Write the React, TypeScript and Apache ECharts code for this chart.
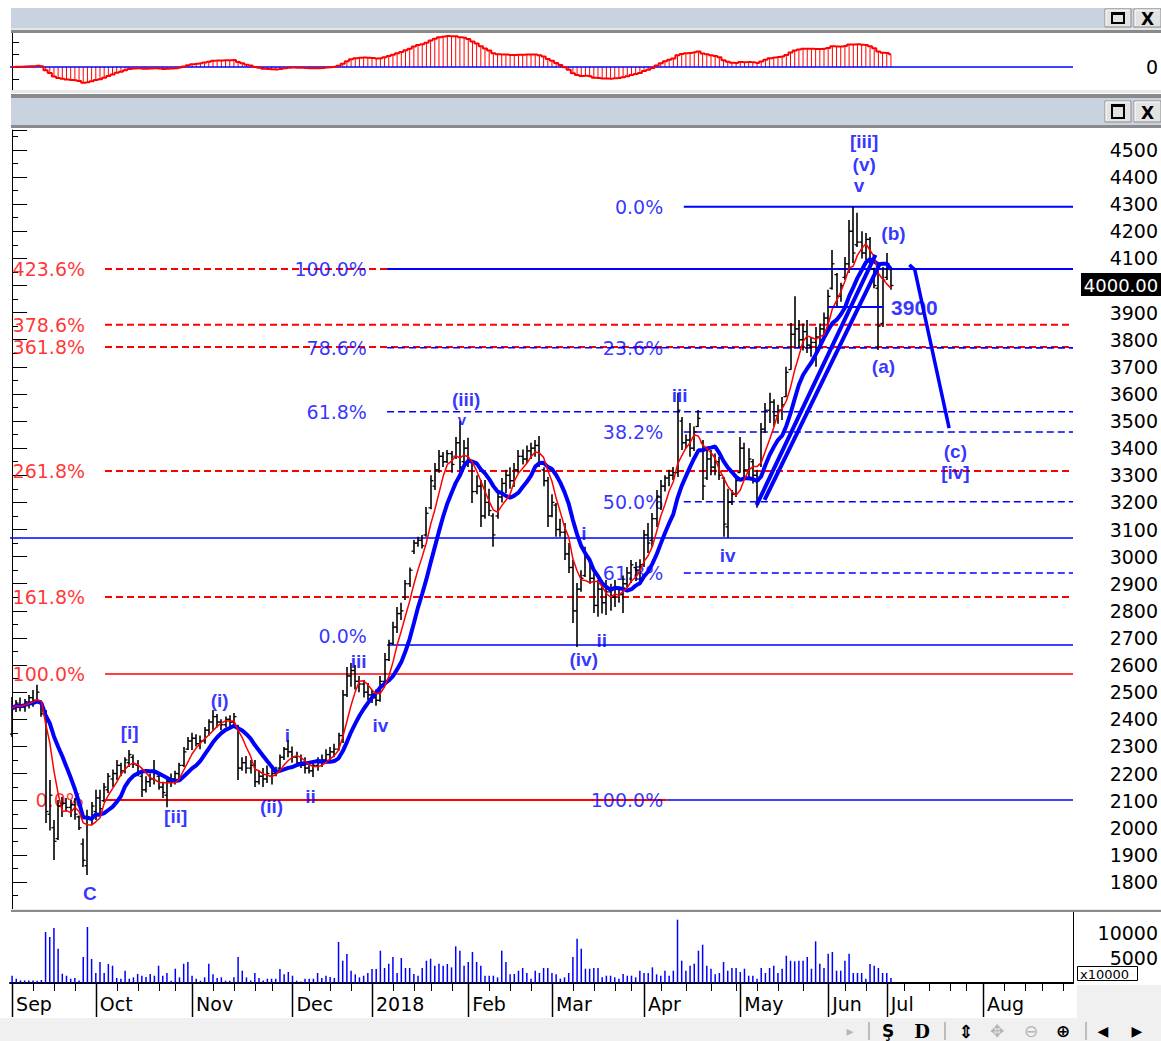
import React, { useEffect, useRef } from "react";
import * as echarts from "echarts";

const SLOT_COUNT = 254;
const BLUE = "#0000ff";
const RED = "#ff0000";
const FONT = "DejaVu Sans";
const BOLD_FONT = "Liberation Sans";

const opens = [2345,2440,2455,2445,2460,2480,2470,2460,2420,2050,
2000,1960,2080,2090,2075,2085,2040,1940,1860,2030,
2060,2110,2100,2140,2180,2200,2230,2210,2240,2260,
2230,2190,2140,2170,2180,2190,2150,2120,2170,2180,
2200,2230,2290,2320,2330,2310,2320,2360,2390,2410,
2390,2380,2400,2390,2370,2220,2240,2220,2230,2170,
2190,2180,2190,2200,2220,2260,2290,2280,2260,2240,
2230,2220,2210,2230,2240,2250,2270,2280,2290,2340,
2490,2560,2580,2540,2530,2500,2490,2480,2470,2540,
2620,2680,2740,2790,2850,2900,3020,3050,3060,3080,
3180,3260,3320,3370,3350,3380,3370,3420,3350,3400,
3350,3240,3260,3150,3200,3150,3150,3220,3270,3300,
3280,3320,3370,3360,3390,3400,3410,3320,3280,3150,
3190,3100,3090,3010,2960,2800,2880,2930,2990,2920,
2820,2880,2830,2870,2850,2880,2860,2900,2940,2960,
2950,2970,3080,3060,3140,3220,3260,3290,3300,3310,
3500,3420,3430,3400,3480,3420,3290,3360,3330,3350,
3290,3110,3200,3230,3310,3400,3320,3350,3300,3340,
3470,3540,3570,3520,3540,3590,3690,3820,3840,3800,
3830,3780,3790,3810,3840,3880,3990,4040,3960,4030,
4080,4200,4150,4160,4120,4170,4060,3990,3860,4030,
4060];

const highs = [2482,2471,2480,2475,2490,2508,2527,2470,2434,2176,
2029,2102,2113,2110,2102,2110,2045,1960,2066,2095,
2140,2140,2165,2202,2215,2250,2240,2260,2287,2270,
2250,2202,2190,2200,2250,2200,2170,2187,2200,2210,
2240,2298,2335,2350,2345,2340,2372,2400,2434,2420,
2400,2410,2415,2423,2380,2260,2265,2250,2250,2210,
2220,2230,2215,2225,2270,2298,2324,2300,2280,2270,
2260,2240,2250,2260,2270,2290,2298,2310,2350,2508,
2593,2608,2600,2560,2545,2534,2508,2510,2560,2645,
2693,2760,2814,2830,2914,2960,3061,3073,3080,3183,
3300,3345,3393,3386,3393,3390,3441,3500,3430,3438,
3357,3300,3283,3283,3250,3160,3240,3290,3320,3330,
3345,3393,3395,3410,3420,3430,3445,3330,3294,3230,
3198,3140,3124,3050,2988,2903,2950,3036,2995,2940,
2914,2900,2914,2900,2914,2890,2930,2962,2988,2980,
2990,3098,3124,3161,3246,3283,3300,3320,3331,3604,
3515,3450,3493,3480,3541,3430,3393,3393,3380,3368,
3294,3250,3246,3300,3441,3420,3400,3360,3320,3493,
3567,3604,3580,3560,3589,3700,3862,3960,3873,3860,
3873,3810,3847,3860,3900,3984,4131,4046,4010,4105,
4242,4290,4268,4200,4194,4179,4065,4057,4068,4120,
4068];

const lows = [2335,2427,2430,2428,2440,2446,2460,2409,2018,1990,
1881,1955,2040,2060,2040,2030,1992,1855,1826,2010,
2029,2050,2095,2128,2150,2176,2190,2200,2224,2220,
2190,2113,2130,2150,2160,2140,2110,2076,2150,2160,
2180,2224,2287,2287,2300,2290,2310,2340,2360,2370,
2360,2370,2372,2372,2176,2210,2200,2200,2150,2160,
2150,2165,2160,2190,2215,2250,2260,2240,2230,2220,
2200,2200,2187,2210,2224,2240,2250,2260,2285,2313,
2482,2520,2510,2500,2480,2471,2460,2450,2465,2534,
2615,2675,2718,2766,2840,2888,3010,3036,3030,3073,
3175,3246,3309,3331,3345,3309,3360,3294,3340,3331,
3198,3230,3109,3140,3150,3036,3140,3200,3235,3250,
3257,3309,3340,3345,3360,3368,3331,3260,3109,3145,
3073,3073,2988,2940,2755,2667,2870,2925,2900,2792,
2778,2790,2785,2800,2814,2830,2792,2888,2903,2910,
2910,2962,3013,3036,3109,3172,3240,3260,3283,3294,
3393,3400,3368,3390,3478,3209,3283,3300,3300,3283,
3073,3070,3190,3220,3309,3283,3290,3270,3180,3331,
3456,3493,3480,3490,3504,3589,3689,3773,3773,3760,
3751,3737,3700,3780,3800,3836,3984,3921,3940,4020,
4046,4083,4142,4100,4094,4057,3990,3762,3847,4020,
3984];

const closes = [2440,2460,2445,2465,2480,2470,2500,2420,2060,2120,
1950,2080,2090,2075,2085,2050,2000,1880,2040,2080,
2110,2070,2150,2190,2200,2230,2210,2250,2270,2235,
2200,2140,2170,2180,2200,2150,2130,2170,2180,2200,
2230,2280,2320,2330,2310,2320,2360,2390,2410,2390,
2380,2400,2390,2410,2220,2240,2220,2230,2170,2190,
2180,2200,2200,2210,2260,2290,2280,2260,2240,2230,
2220,2210,2230,2240,2250,2270,2280,2290,2340,2490,
2560,2580,2540,2530,2500,2490,2480,2470,2540,2620,
2680,2740,2790,2800,2900,2950,3050,3060,3040,3160,
3280,3320,3370,3350,3380,3340,3420,3330,3400,3350,
3240,3260,3150,3200,3170,3080,3220,3270,3300,3280,
3320,3370,3360,3390,3400,3410,3350,3280,3150,3200,
3100,3090,3010,2960,2800,2880,2920,3000,2920,2820,
2880,2830,2870,2850,2880,2860,2900,2940,2970,2950,
2970,3080,3050,3140,3220,3260,3290,3300,3310,3540,
3420,3430,3400,3460,3510,3260,3360,3330,3350,3300,
3120,3200,3230,3280,3400,3320,3360,3300,3280,3470,
3540,3570,3520,3540,3560,3680,3820,3840,3800,3830,
3780,3790,3810,3840,3880,3960,4080,3960,4000,4080,
4200,4120,4160,4120,4170,4080,4000,3850,4020,4080,
4000];

// volume in units of 10000
const volumes = [1460,860,530,500,500,500,450,600,10200,9200,
11000,6860,1860,1460,860,1000,500,5200,11200,4800,
2000,4200,2000,3800,3460,1000,860,2460,860,1130,
1800,1460,1200,1800,1460,3460,1460,2000,460,2860,
1130,3860,4200,1460,860,460,1130,3860,1730,1000,
1130,460,460,1130,5200,2460,1130,500,2000,1000,
500,860,860,860,2800,1730,2200,1460,460,300,
860,860,860,2000,1000,1460,1200,1000,8200,4460,
5800,2460,1730,1130,1460,2000,2800,2800,6460,3000,
3860,5200,2000,5000,3000,3000,1800,1460,3000,4460,
4860,3460,3860,3460,3800,3130,7330,6460,3460,4200,
6200,4200,3460,1460,1460,1460,1130,6460,4200,1730,
1800,2460,3000,2000,860,2460,2000,3000,3000,2000,
1730,860,1130,2000,5200,8860,6860,2860,2860,3000,
3000,1130,1460,1460,1130,860,1800,1460,1460,1130,
2460,2000,2000,3130,1730,1460,2460,1460,2460,12660,
4460,2460,3460,3860,6460,7660,3460,2860,1730,2000,
4200,2460,3000,3000,2200,2860,1460,1460,860,3000,
2000,3000,3460,2000,2860,5460,4460,4330,4460,4460,
5200,2860,8330,3860,3000,5860,6200,2460,2460,4460,
5860,2000,2000,2000,860,3800,3460,3000,2000,2000,
1000];

const monthSlots = [0, 20, 43, 67, 86, 109, 129, 151, 174, 195, 209, 232];
const monthNames = ["Sep", "Oct", "Nov", "Dec", "2018", "Feb", "Mar", "Apr", "May", "Jun", "Jul", "Aug"];
const weekSlots = [5,10,15,25,30,35,39,48,53,58,62,71,76,81,91,96,100,105,114,119,124,134,139,144,148,155,161,167,173,178,183,189,199,204,213,219,224,228,237,242,246,251];

// Fibonacci levels (red extension set)
const redDashedPrices = [4061, 3855, 3773, 3316, 2851];
const redDashedLabels = ["423.6%", "378.6%", "361.8%", "261.8%", "161.8%"];
const redSolidPrices = [2567, 2102];
const redSolidLabels = ["100.0%", "0.0%"];
const redSolidEnds = [253.5, 156.4];
const redLabelSlots = [0, 5.5];

// blue retracement set A (left)
const blueALabels = ["100.0%", "78.6%", "61.8%", "0.0%"];
const blueAPrices = [4061, 3770, 3534, 2674];
const blueALabelPrices = [4061, 3770, 3534, 2706];
const blueADashed = [false, true, true, false];
const blueAWidths = [2, 1.5, 1.5, 1.5];

// blue retracement set B (right)
const blueBLabels = ["0.0%", "23.6%", "38.2%", "50.0%", "61.8%", "100.0%"];
const blueBPrices = [4290, 3770, 3460, 3202, 2940, 2102];
const blueBDashed = [false, true, true, true, true, false];
const blueBWidths = [2, 1.5, 1.5, 1.5, 1.5, 1.5];
const blueBStarts = [160.5, 160.5, 160.5, 160.5, 160.5, 156.4];

const midLinePrice = 3069;

// Elliott wave labels
const waveTexts = ["C", "[i]", "[ii]", "(i)", "(ii)", "i", "ii", "iii", "iv", "(iii)", "v", "i", "(iv)", "ii", "iii", "iv", "[iii]", "(v)", "v", "(b)", "(a)", "(c)", "[iv]"];
const waveSlots = [18.6, 28.1, 39.1, 49.6, 62, 65.8, 71.3, 82.8, 88, 108.5, 107.5, 136.6, 136.6, 140.9, 159.5, 171, 203.6, 203.6, 202.4, 210.6, 208.2, 225.4, 225.4];
const wavePrices = [1759, 2350, 2043, 2471, 2080, 2342, 2117, 2612, 2379, 3578, 3506, 3087, 2619, 2689, 3596, 3006, 4530, 4445, 4367, 4190, 3700, 3386, 3312];

// drawn trend / projection lines
const trendLine1 = [[177.9, 3190], [206.3, 4113]];
const trendLine2 = [[179.8, 3209], [207.2, 4076]];
const projection = [[214.4, 4076], [215.7, 4058], [223.9, 3474]];
const level3900 = [[195, 3921], [208.2, 3921]];

function sma(values: number[], n: number) {
  return values.map((_, i) => {
    const s = Math.max(0, i - n + 1);
    let sum = 0;
    for (let k = s; k <= i; k++) sum += values[k];
    return sum / (i - s + 1);
  });
}
function ema(values: number[], n: number) {
  const k = 2 / (n + 1);
  const out: number[] = [];
  values.forEach((v, i) => out.push(i === 0 ? v : v * k + out[i - 1] * (1 - k)));
  return out;
}

export default function App() {
  const ref = useRef<HTMLDivElement>(null);
  useEffect(() => {
    if (!ref.current) return;
    const chart = echarts.init(ref.current, null, { renderer: "svg" });

    const ma5 = sma(closes, 5);
    const ma10 = sma(closes, 10);
    const e12 = ema(closes, 12);
    const e26 = ema(closes, 26);
    const macd = closes.map((_, i) => e12[i] - e26[i]);
    const unit = Math.max(...macd) / 2.48;

    const cats = Array.from({ length: SLOT_COUNT }, (_, i) => {
      const m = monthSlots.indexOf(i);
      return m >= 0 ? monthNames[m] : "s" + i;
    });
    const monthSet = new Set(monthSlots);

    const line = (pts: number[][], color: string, width: number, dashed: boolean, z = 3) => ({
      type: "line", xAxisIndex: 1, yAxisIndex: 1, data: pts, symbol: "none", silent: true,
      lineStyle: { color, width, type: dashed ? [7, 4] : "solid" }, z,
    });

    const textSeries = (items: { text: string; slot: number; price: number; size?: number }[], position: string, color: string, size: number, family: string, weight: string, z: number) => ({
      type: "scatter", xAxisIndex: 1, yAxisIndex: 1, symbolSize: 1, silent: true, z,
      itemStyle: { color: "rgba(0,0,0,0)" },
      data: items.map((it) => ({ value: [it.slot, it.price], label: { formatter: it.text, fontSize: it.size || size } })),
      label: { show: true, position, distance: 0, color, fontSize: size, fontFamily: family, fontWeight: weight },
    });

    const series: any[] = [];
    // MACD
    series.push({ type: "line", xAxisIndex: 0, yAxisIndex: 0, data: [[-0.5, 0], [253.5, 0]], symbol: "none", silent: true, lineStyle: { color: BLUE, width: 1.5 } });
    series.push({ type: "bar", xAxisIndex: 0, yAxisIndex: 0, data: macd.map((v, i) => [i, v]), barWidth: 1, itemStyle: { color: RED }, silent: true });
    series.push({ type: "line", xAxisIndex: 0, yAxisIndex: 0, data: macd.map((v, i) => [i, v]), step: "middle", symbol: "none", silent: true, lineStyle: { color: RED, width: 2 } });

    // red labels under bars
    series.push(textSeries(
      redDashedLabels.map((t, i) => ({ text: t, slot: 0, price: redDashedPrices[i] }))
        .concat(redSolidLabels.map((t, i) => ({ text: t, slot: redLabelSlots[i], price: redSolidPrices[i] }))),
      "right", RED, 19, FONT, "normal", 2));

    // fib lines
    redDashedPrices.forEach((p) => series.push(line([[22.2, p], [253.5, p]], RED, 2, true)));
    redSolidPrices.forEach((p, i) => series.push(line([[22.2, p], [redSolidEnds[i], p]], RED, i === 0 ? 1.5 : 2, false)));
    blueAPrices.forEach((p, i) => series.push(line([[89.6, p], [253.5, p]], BLUE, blueAWidths[i], blueADashed[i])));
    blueBPrices.forEach((p, i) => series.push(line([[blueBStarts[i], p], [253.5, p]], BLUE, blueBWidths[i], blueBDashed[i])));
    series.push(line([[-0.5, midLinePrice], [253.5, midLinePrice]], BLUE, 1.5, false));

    // OHLC bars
    series.push({
      type: "custom", xAxisIndex: 1, yAxisIndex: 1, silent: true, z: 4, clip: true,
      data: opens.map((o, i) => [i, o, highs[i], lows[i], closes[i]]),
      encode: { x: 0, y: [1, 2, 3, 4] },
      renderItem: (params: any, api: any) => {
        const i = api.value(0);
        const pO = api.coord([i, api.value(1)]);
        const pH = api.coord([i, api.value(2)]);
        const pL = api.coord([i, api.value(3)]);
        const pC = api.coord([i, api.value(4)]);
        const x = Math.round(pH[0]);
        return {
          type: "group",
          children: [
            { type: "line", shape: { x1: x, y1: pH[1], x2: x, y2: pL[1] }, style: { stroke: "#000", lineWidth: 1.6 } },
            { type: "line", shape: { x1: x - 2.5, y1: pO[1], x2: x, y2: pO[1] }, style: { stroke: "#000", lineWidth: 1.3 } },
            { type: "line", shape: { x1: x, y1: pC[1], x2: x + 2.5, y2: pC[1] }, style: { stroke: "#000", lineWidth: 1.3 } },
          ],
        };
      },
    });

    // moving averages
    series.push({ type: "line", xAxisIndex: 1, yAxisIndex: 1, data: ma10.map((v, i) => [i, v]), symbol: "none", silent: true, z: 5, lineStyle: { color: BLUE, width: 4 } });
    series.push({ type: "line", xAxisIndex: 1, yAxisIndex: 1, data: ma5.map((v, i) => [i, v]), symbol: "none", silent: true, z: 6, lineStyle: { color: RED, width: 1.5 } });

    // drawn lines
    series.push(line(trendLine1, BLUE, 4, false, 6));
    series.push(line(trendLine2, BLUE, 4, false, 6));
    series.push(line(projection, BLUE, 3.5, false, 6));
    series.push(line(level3900, BLUE, 2, false, 6));

    // blue fib labels
    series.push(textSeries(
      blueALabels.map((t, i) => ({ text: t, slot: 84.9, price: blueALabelPrices[i] }))
        .concat(blueBLabels.map((t, i) => ({ text: t, slot: 155.7, price: blueBPrices[i] }))),
      "left", BLUE, 19, FONT, "normal", 3));

    // wave labels
    series.push(textSeries(waveTexts.map((t, i) => ({ text: t, slot: waveSlots[i], price: wavePrices[i], size: i === 10 ? 15 : 19 })), "inside", BLUE, 19, BOLD_FONT, "bold", 8));
    series.push(textSeries([{ text: "3900", slot: 215.6, price: 3917 }], "inside", BLUE, 21, BOLD_FONT, "bold", 5));

    // volume
    series.push({ type: "bar", xAxisIndex: 2, yAxisIndex: 2, data: volumes, barWidth: 1.5, itemStyle: { color: BLUE }, silent: true });

    // time-axis ticks (weekly short, monthly long) drawn below the volume baseline
    const tickData = weekSlots.map((s) => [s, 8]).concat(monthSlots.map((s) => [s, 34]));
    series.push({
      type: "custom", xAxisIndex: 2, yAxisIndex: 2, silent: true, clip: false, z: 10,
      data: tickData,
      encode: { x: 0, y: 1 },
      renderItem: (params: any, api: any) => {
        const p = api.coord([api.value(0), 0]);
        const len = api.value(1);
        const x = Math.round(p[0]) + 0.5;
        return { type: "line", shape: { x1: x, y1: p[1], x2: x, y2: p[1] + len }, style: { stroke: "#000", lineWidth: len > 10 ? 1.5 : 1 } };
      },
    });

    const axisLabelBase = { color: "#000", fontSize: 19, fontFamily: FONT, margin: 85, align: "right" };

    const graphics: any[] = [];
    const rect = (x: number, y: number, w: number, h: number, fill: string) =>
      graphics.push({ type: "rect", z: 100, shape: { x, y, width: w, height: h }, style: { fill } });
    rect(11, 8, 1150, 20, "#c9d3df");
    rect(11, 28, 1150, 2, "#e6e6e6");
    rect(11, 30, 1150, 3, "#8a8a8a");
    rect(11, 90, 1150, 3, "#e8e8e8");
    rect(11, 94, 1150, 4, "#8a8a8a");
    rect(11, 98, 1150, 27, "#c9d3df");
    rect(11, 125, 1150, 3, "#8a8a8a");
    rect(11, 909, 1150, 1, "#e8e8e8");
    rect(11, 910, 1150, 2, "#8a8a8a");
    rect(1077, 985, 84, 33, "#f0f0f0");
    rect(0, 1018, 1161, 23, "#f0f0f0");

    const button = (x: number, y: number, w: number, h: number, kind: string) => {
      graphics.push({ type: "rect", z: 101, shape: { x, y, width: w, height: h }, style: { fill: "#e2e2e2", stroke: "#8c8c8c", lineWidth: 1 } });
      graphics.push({ type: "polyline", z: 102, shape: { points: [[x + 1, y + h - 1], [x + 1, y + 1], [x + w - 1, y + 1]] }, style: { stroke: "#ffffff", lineWidth: 1, fill: null } });
      if (kind === "max") {
        graphics.push({ type: "rect", z: 102, shape: { x: x + 7, y: y + 4, width: w - 14, height: h - 8 }, style: { fill: "none", stroke: "#000", lineWidth: 2 } });
        graphics.push({ type: "rect", z: 102, shape: { x: x + 7, y: y + 4, width: w - 14, height: 2 }, style: { fill: "#000" } });
      } else {
        graphics.push({ type: "text", z: 102, style: { text: "X", x: x + w / 2, y: y + h / 2 + 1, align: "center", verticalAlign: "middle", font: 'bold 17px "DejaVu Sans"', fill: "#000" } });
      }
    };
    button(1105, 9, 26, 18, "max");
    button(1134, 9, 27, 18, "close");
    button(1105, 101, 26, 21, "max");
    button(1134, 101, 27, 21, "close");

    // price tag
    graphics.push({ type: "rect", z: 100, shape: { x: 1081, y: 273, width: 80, height: 23 }, style: { fill: "#000" } });
    graphics.push({ type: "text", z: 101, style: { text: "4000.00", x: 1121, y: 285, align: "center", verticalAlign: "middle", font: '18px "DejaVu Sans"', fill: "#fff" } });
    // volume unit box
    graphics.push({ type: "rect", z: 100, shape: { x: 1077.5, y: 966.5, width: 60, height: 14 }, style: { fill: "#fff", stroke: "#000", lineWidth: 1 } });
    graphics.push({ type: "text", z: 101, style: { text: "x10000", x: 1080, y: 974, align: "left", verticalAlign: "middle", font: '13px "DejaVu Sans"', fill: "#000" } });

    // toolbar
    const tool = (t: string, x: number, color: string, size: number, bold = false, family = FONT) =>
      graphics.push({ type: "text", z: 101, style: { text: t, x, y: 1031, align: "center", verticalAlign: "middle", font: `${bold ? "bold " : ""}${size}px "${family}"`, fill: color } });
    const sep = (x: number) => graphics.push({ type: "line", z: 101, shape: { x1: x, y1: 1022, x2: x, y2: 1040 }, style: { stroke: "#8a8a8a", lineWidth: 1 } });
    tool("▸", 850, "#b5b5b5", 14);
    sep(869);
    tool("Ş", 888, "#000", 17, true);
    tool("D", 922, "#000", 18, true, "DejaVu Serif");
    sep(945);
    tool("⇕", 966, "#000", 18, true);
    tool("✥", 997, "#b5b5b5", 17);
    tool("⊖", 1031, "#b5b5b5", 17);
    tool("⊕", 1063, "#000", 17, true);
    sep(1086);
    tool("◀", 1103, "#000", 14);
    tool("▶", 1137, "#000", 14);

    const option: any = {
      animation: false,
      backgroundColor: "#ffffff",
      textStyle: { fontFamily: FONT },
      grid: [
        { left: 10, top: 29.5, width: 1065, height: 62.5 },
        { left: 10, top: 130, width: 1065, height: 779.1 },
        { left: 10, top: 912, width: 1065, height: 71 },
      ],
      xAxis: [
        { type: "value", gridIndex: 0, min: -0.5, max: 253.5, show: false },
        { type: "value", gridIndex: 1, min: -0.5, max: 253.5, show: false },
        {
          type: "category", gridIndex: 2, position: "bottom", offset: 0, data: cats, boundaryGap: true,
          axisLine: { show: true, lineStyle: { color: "#000", width: 2 } },
          axisTick: { show: false },
          axisLabel: { interval: (i: number) => monthSet.has(i), align: "left", padding: [0, 0, 0, 4], margin: 11, fontSize: 19, color: "#000", fontFamily: FONT },
          splitLine: { show: false },
        },
      ],
      yAxis: [
        {
          type: "value", gridIndex: 0, position: "right", min: -2 * unit, max: 3 * unit, interval: unit,
          axisLine: { show: true, lineStyle: { color: "#000" } },
          axisTick: { length: 7, lineStyle: { color: "#000" } },
          axisLabel: { ...axisLabelBase, formatter: (v: number) => (Math.abs(v) < unit / 100 ? "0" : "") },
          splitLine: { show: false },
        },
        {
          type: "value", gridIndex: 1, position: "right", min: 1700, max: 4573.5, interval: 100,
          axisLine: { show: true, lineStyle: { color: "#000" } },
          axisTick: { length: 15, lineStyle: { color: "#000" } },
          minorTick: { show: true, splitNumber: 2, length: 6, lineStyle: { color: "#000" } },
          axisLabel: { ...axisLabelBase, formatter: (v: number) => (v >= 1800 && v <= 4500 && v % 100 === 0 && v !== 4000 ? String(v) : "") },
          splitLine: { show: false }, minorSplitLine: { show: false },
        },
        {
          type: "value", gridIndex: 2, position: "right", min: 0, max: 14200, interval: 1000,
          axisLine: { show: true, lineStyle: { color: "#000" } },
          axisTick: { length: 5, lineStyle: { color: "#000" } },
          axisLabel: { ...axisLabelBase, lineHeight: 12, formatter: (v: number) => (v === 5000 || v === 10000 ? String(v) : "") },
          splitLine: { show: false },
        },
      ],
      series,
      graphic: { elements: graphics },
    };
    chart.setOption(option);
    return () => chart.dispose();
  }, []);
  return <div ref={ref} style={{ position: "absolute", left: 0, top: 0, width: 1161, height: 1041 }} />;
}
